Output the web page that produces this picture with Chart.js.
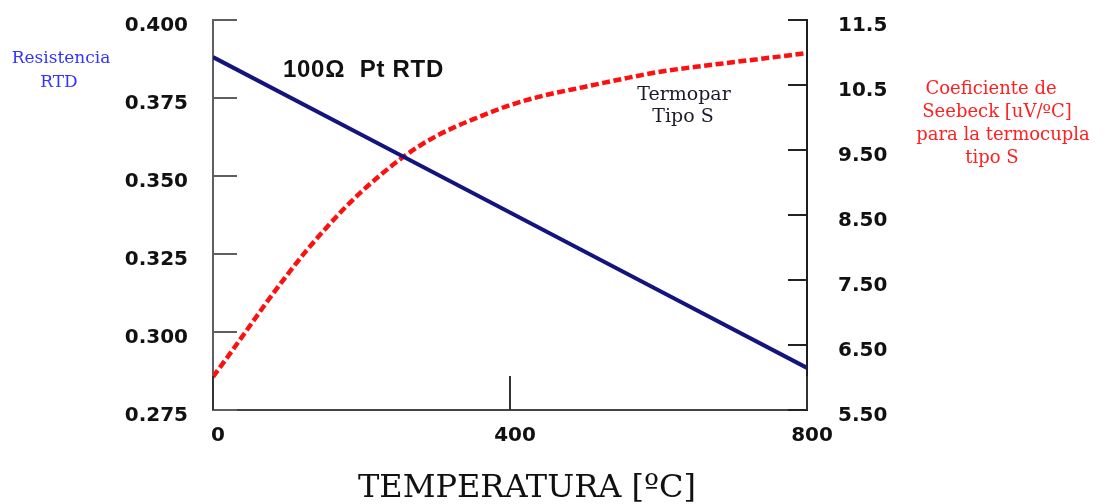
<!DOCTYPE html>
<html><head><meta charset="utf-8">
<script src="https://cdn.jsdelivr.net/npm/chart.js@4.4.0/dist/chart.umd.min.js"></script>
<style>html,body{margin:0;padding:0;background:#fff}#wrap{width:1104px;height:504px}</style>
</head><body><div id="wrap"><canvas id="c" width="1104" height="504"></canvas></div>
<script>
// ---- data ----
const rtdTemperatures = [0, 200, 400, 600, 800];
const rtdResistance = [0.3881, 0.3632, 0.3383, 0.3134, 0.2885];
const seebeckTemperatures = [0, 25, 50, 75, 100, 125, 150, 175, 200, 225, 250, 275, 300, 325, 350, 400, 450, 500, 550, 600, 650, 700, 750, 800];
const seebeckCoefficient = [6.01, 6.40, 6.80, 7.20, 7.58, 7.94, 8.27, 8.58, 8.86, 9.11, 9.34, 9.54, 9.71, 9.85, 9.97, 10.19, 10.35, 10.47, 10.59, 10.70, 10.78, 10.85, 10.92, 10.99];
const xTickValues = [0, 400, 800];
const xTickLabels = ['0', '400', '800'];
const leftTickValues = [0.275, 0.300, 0.325, 0.350, 0.375, 0.400];
const leftTickLabels = ['0.275', '0.300', '0.325', '0.350', '0.375', '0.400'];
const rightTickValues = [5.5, 6.5, 7.5, 8.5, 9.5, 10.5, 11.5];
const rightTickLabels = ['5.50', '6.50', '7.50', '8.50', '9.50', '10.5', '11.5'];

const rtdPoints = rtdTemperatures.map((t, i) => ({x: t, y: rtdResistance[i]}));
const seebeckPoints = seebeckTemperatures.map((t, i) => ({x: t, y: seebeckCoefficient[i]}));

const tickFont = {family: 'DejaVu Sans', weight: 'bold', size: 20};

function buildTicks(values) {
  return s => { s.ticks = values.map(v => ({value: v})); };
}
function fixPad(s) {
  s.paddingTop = 0; s.paddingBottom = 0; s.paddingLeft = 0; s.paddingRight = 0;
}

const decor = {
  id: 'decor',
  afterDraw(chart) {
    const ctx = chart.ctx;
    const xs = chart.scales.x, yl = chart.scales.yL, yr = chart.scales.yR;
    const area = chart.chartArea;
    ctx.save();
    ctx.lineCap = 'butt';
    // inward tick marks
    ctx.lineWidth = 2;
    ctx.strokeStyle = '#5f5f5f';
    leftTickValues.forEach(v => {
      const py = Math.round(yl.getPixelForValue(v));
      ctx.beginPath(); ctx.moveTo(area.left, py); ctx.lineTo(area.left + 24, py); ctx.stroke();
    });
    ctx.strokeStyle = '#222';
    rightTickValues.forEach(v => {
      const py = Math.round(yr.getPixelForValue(v));
      ctx.beginPath(); ctx.moveTo(area.right, py); ctx.lineTo(area.right - 19, py); ctx.stroke();
    });
    ctx.strokeStyle = '#333';
    xTickValues.forEach(v => {
      const px = Math.round(xs.getPixelForValue(v));
      ctx.beginPath(); ctx.moveTo(px, area.bottom); ctx.lineTo(px, area.bottom - 34); ctx.stroke();
    });
    // texts
    ctx.textAlign = 'center';
    ctx.textBaseline = 'alphabetic';
    ctx.fillStyle = '#3434ff';
    ctx.font = '17px "DejaVu Serif"';
    ctx.fillText('Resistencia', 61, 63);
    ctx.fillText('RTD', 59, 87);

    ctx.fillStyle = '#111';
    ctx.font = 'bold 24px "Liberation Sans"';
    ctx.textAlign = 'left';
    try { ctx.letterSpacing = '0.7px'; } catch (e) {}
    ctx.fillText('100\u03A9  Pt RTD', 283, 77);
    try { ctx.letterSpacing = '0px'; } catch (e) {}

    ctx.textAlign = 'center';
    ctx.fillStyle = '#1b1b2b';
    ctx.font = '19px "DejaVu Serif"';
    ctx.fillText('Termopar', 684, 100);
    ctx.fillText('Tipo S', 683, 122);

    ctx.fillStyle = '#ff2020';
    ctx.font = '18px "DejaVu Serif"';
    ctx.fillText('Coeficiente de', 991, 94);
    ctx.fillText('Seebeck [uV/\u00BAC]', 997, 117);
    ctx.fillText('para la termocupla', 1003, 140);
    ctx.fillText('tipo S', 992, 163);

    ctx.fillStyle = '#111';
    ctx.font = '32px "DejaVu Serif"';
    ctx.fillText('TEMPERATURA [\u00BAC]', 527, 497);
    ctx.restore();
  }
};

new Chart(document.getElementById('c'), {
  type: 'line',
  data: {
    datasets: [
      {
        label: '100\u03A9 Pt RTD',
        data: rtdPoints,
        yAxisID: 'yL',
        borderColor: '#14147f',
        borderWidth: 4,
        pointRadius: 0,
        fill: false,
        tension: 0
      },
      {
        label: 'Termopar Tipo S',
        data: seebeckPoints,
        yAxisID: 'yR',
        borderColor: '#ff1010',
        borderWidth: 4.5,
        borderDash: [8, 3.5],
        pointRadius: 0,
        fill: false,
        cubicInterpolationMode: 'monotone'
      }
    ]
  },
  options: {
    responsive: false,
    animation: false,
    devicePixelRatio: 1,
    layout: {padding: {top: 20, left: 0, right: 0, bottom: 0}},
    plugins: {legend: {display: false}, tooltip: {enabled: false}, title: {display: false}},
    scales: {
      x: {
        type: 'linear', min: 0, max: 800,
        afterBuildTicks: buildTicks(xTickValues),
        afterFit: s => { s.height = 94; fixPad(s); },
        grid: {display: true, drawOnChartArea: false, drawTicks: false},
        border: {display: true, color: '#444', width: 2},
        ticks: {
          font: tickFont, color: '#111', padding: 14, labelOffset: 5, maxRotation: 0,
          callback: (v) => xTickLabels[xTickValues.indexOf(v)]
        }
      },
      yL: {
        type: 'linear', position: 'left', min: 0.275, max: 0.400,
        afterBuildTicks: buildTicks(leftTickValues),
        afterFit: s => { s.width = 213; fixPad(s); },
        grid: {display: true, drawOnChartArea: false, drawTicks: false},
        border: {display: true, color: '#5f5f5f', width: 2},
        ticks: {
          font: tickFont, color: '#111', padding: 25, labelOffset: 6,
          callback: (v) => leftTickLabels[leftTickValues.findIndex(t => Math.abs(t - v) < 1e-9)]
        }
      },
      yR: {
        type: 'linear', position: 'right', min: 5.5, max: 11.5,
        afterBuildTicks: buildTicks(rightTickValues),
        afterFit: s => { s.width = 297; fixPad(s); },
        grid: {display: true, drawOnChartArea: false, drawTicks: false},
        border: {display: true, color: '#1e1e1e', width: 2},
        ticks: {
          font: tickFont, color: '#111', padding: 31, labelOffset: 6,
          callback: (v) => rightTickLabels[rightTickValues.findIndex(t => Math.abs(t - v) < 1e-9)]
        }
      }
    }
  },
  plugins: [decor]
});
</script>
</body></html>
